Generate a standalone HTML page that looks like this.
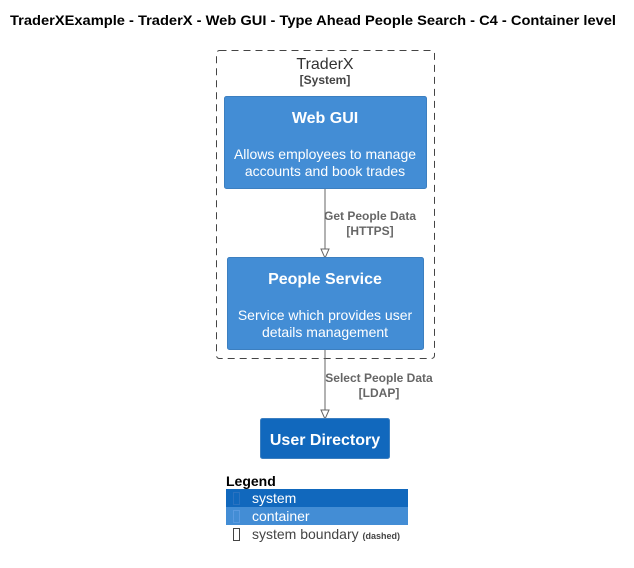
<!DOCTYPE html>
<html><head><meta charset="utf-8"><style>
html,body{margin:0;padding:0;background:#fff;}
svg{display:block;font-family:"Liberation Sans",Arial,sans-serif;}
</style></head><body>
<svg width="634" height="568" viewBox="0 0 634 568" xmlns="http://www.w3.org/2000/svg">
<rect width="634" height="568" fill="#fff"/>
<text x="10" y="25" font-size="14" font-weight="bold" fill="#000" textLength="606" lengthAdjust="spacingAndGlyphs">TraderXExample - TraderX - Web GUI - Type Ahead People Search - C4 - Container level</text>
<rect x="216.5" y="50.5" width="218" height="308" rx="3" fill="none" stroke="#444" stroke-dasharray="7,5"/>
<text x="325" y="69" text-anchor="middle" font-size="16" fill="#333">TraderX</text>
<text x="325" y="84" text-anchor="middle" font-size="12" font-weight="bold" fill="#444">[System]</text>
<rect x="224.5" y="96.5" width="202" height="92" rx="2" fill="#438DD5" stroke="#3C7FC0"/>
<text x="325" y="123" text-anchor="middle" font-size="16" font-weight="bold" fill="#fff">Web GUI</text>
<text x="325" y="159" text-anchor="middle" font-size="14" fill="#fff">Allows employees to manage</text>
<text x="325" y="176" text-anchor="middle" font-size="14" fill="#fff">accounts and book trades</text>
<line x1="325" y1="189" x2="325" y2="252" stroke="#666"/>
<polygon points="321,249 329,249 325,258" fill="#fff" stroke="#666"/>
<text x="370" y="220" text-anchor="middle" font-size="12" font-weight="bold" fill="#666">Get People Data</text>
<text x="370" y="235" text-anchor="middle" font-size="12" font-weight="bold" fill="#666">[HTTPS]</text>
<rect x="227.5" y="257.5" width="196" height="92" rx="2" fill="#438DD5" stroke="#3C7FC0"/>
<text x="325" y="284" text-anchor="middle" font-size="16" font-weight="bold" fill="#fff">People Service</text>
<text x="325" y="320" text-anchor="middle" font-size="14" fill="#fff">Service which provides user</text>
<text x="325" y="337" text-anchor="middle" font-size="14" fill="#fff">details management</text>
<line x1="325" y1="350" x2="325" y2="413" stroke="#666"/>
<polygon points="321,410 329,410 325,419" fill="#fff" stroke="#666"/>
<text x="379" y="382" text-anchor="middle" font-size="12" font-weight="bold" fill="#666">Select People Data</text>
<text x="379" y="397" text-anchor="middle" font-size="12" font-weight="bold" fill="#666">[LDAP]</text>
<rect x="260.5" y="418.5" width="129" height="40" rx="2" fill="#1168BD" stroke="#3C7FC0"/>
<text x="325" y="445" text-anchor="middle" font-size="16" font-weight="bold" fill="#fff">User Directory</text>
<text x="226" y="486" font-size="14" font-weight="bold" fill="#000">Legend</text>
<rect x="226" y="489" width="182" height="18" fill="#1168BD"/>
<rect x="233.5" y="492.5" width="6" height="12" fill="none" stroke="#2a72c0"/>
<text x="252" y="503" font-size="14" fill="#fff">system</text>
<rect x="226" y="507" width="182" height="18" fill="#438DD5"/>
<rect x="233.5" y="510.5" width="6" height="12" fill="none" stroke="#5a9ae0"/>
<text x="252" y="521" font-size="14" fill="#fff">container</text>
<rect x="233.5" y="528.5" width="6" height="12" fill="none" stroke="#444"/>
<text x="252" y="539" font-size="14" fill="#444">system boundary <tspan font-size="9" font-weight="bold">(dashed)</tspan></text>
</svg>
</body></html>
